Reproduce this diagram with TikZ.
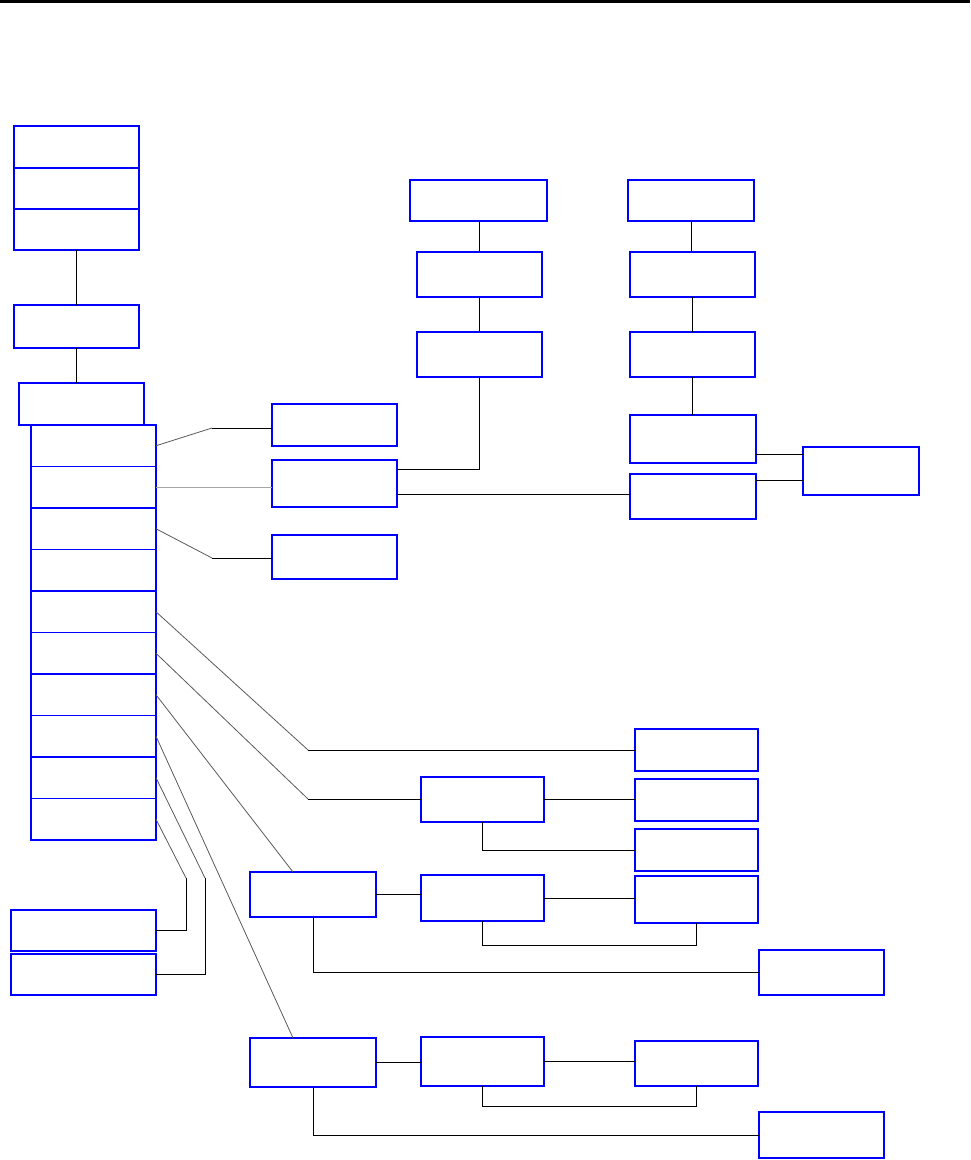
\documentclass[tikz,border=0pt]{standalone}
\usepackage{tikz}

\tikzset{
  blk/.style={draw=blue, line width=1.6pt, inner sep=0pt, outer sep=0pt,
              minimum width=125pt, minimum height=42pt},
  lnk/.style={draw=black, line width=1pt},
  slant/.style={draw=black!65, line width=0.8pt},
}

\begin{document}
\begin{tikzpicture}[x=1pt, y=-1pt]
    \useasboundingbox (0,0) rectangle (970,1160);
    % 顶部黑色横线
    \fill[black] (0,0) rectangle (970,2.5);

    % 左上角三层叠放的方框
    \node[blk, minimum height=42pt] (a1) at (76.5,147) {};
    \node[blk, minimum height=41pt] (a2) at (76.5,188.5) {};
    \node[blk, minimum height=41pt] (a3) at (76.5,229.5) {};
    \node[blk, minimum height=43pt] (b) at (76.5,326.5) {};
    \node[blk] (c) at (81.5,404) {};
    \draw[lnk] (a3.south) -- (b.north);
    \draw[lnk] (b.south) -- (b.south |- c.north);

    % 左侧竖直一列 (十个方框)
    \foreach \i in {1,...,10}
        \node[blk, minimum height=41.5pt] (d\i) at (93.5, 404.25+41.5*\i) {};

    % 第一列右边的三个方框
    \node[blk] (e1) at (334.5,425) {};
    \node[blk, minimum height=47pt] (e2) at (334.5,483.5) {};
    \node[blk, minimum height=44pt] (e3) at (334.5,557) {};
    \coordinate (q1) at (212,428);
    \coordinate (q3) at (212,558);
    \draw[slant] (d1.east) -- (q1);
    \draw[lnk] (q1) -- (q1 -| e1.west);
    \draw[draw=black!35, line width=1.4pt] (d2.east) -- (e2.west |- d2.east);
    \draw[slant] (d3.east) -- (q3);
    \draw[lnk] (q3) -- (q3 -| e3.west);

    % 中间上方的一列
    \node[blk, minimum width=137pt, minimum height=41pt] (f1) at (478.5,200.5) {};
    \node[blk, minimum height=45pt] (f2) at (479.5,274.5) {};
    \node[blk, minimum height=45pt] (f3) at (479.5,354.5) {};
    \draw[lnk] (f1.south -| f2.north) -- (f2.north);
    \draw[lnk] (f2.south) -- (f3.north);
    \draw[lnk] (f3.south) |- (e2.east |- 0,469);

    % 右上方的一列
    \node[blk, minimum width=126pt, minimum height=41pt] (g1) at (691,200.5) {};
    \node[blk, minimum height=45pt] (g2) at (692.5,274.5) {};
    \node[blk, minimum height=45pt] (g3) at (692.5,354.5) {};
    \node[blk, minimum width=126pt, minimum height=48pt] (g4) at (693,439) {};
    \node[blk, minimum width=126pt, minimum height=45pt] (g5) at (693,496.5) {};
    \node[blk, minimum width=116pt, minimum height=48pt] (h) at (861,471) {};
    \draw[lnk] (g1.south) -- (g1.south |- g2.north);
    \draw[lnk] (g2.south) -- (g3.north);
    \draw[lnk] (g3.south) -- (g3.south |- g4.north);
    \draw[lnk] (e2.east |- 0,494) -- (g5.west |- 0,494);
    \draw[lnk] (g4.east |- 0,454) -- (h.west |- 0,454);
    \draw[lnk] (g5.east |- 0,480) -- (h.west |- 0,480);

    % 下方的分支
    \node[blk, minimum width=123pt] (i1) at (696.5,750) {};
    \node[blk, minimum width=123pt] (i2) at (696.5,800) {};
    \node[blk, minimum width=123pt] (i3) at (696.5,850) {};
    \node[blk, minimum width=123pt, minimum height=47pt] (i4) at (696.5,899.5) {};
    \node[blk, minimum width=123pt, minimum height=45pt] (j) at (482.5,799.5) {};
    \node[blk, minimum width=126pt, minimum height=45pt] (k) at (313,894.5) {};
    \node[blk, minimum width=123pt, minimum height=46pt] (l) at (482.5,898) {};
    \node[blk, minimum height=45pt] (m) at (821.5,972.5) {};
    \node[blk, minimum width=126pt, minimum height=49pt] (n) at (313,1062.5) {};
    \node[blk, minimum width=123pt, minimum height=49pt] (o) at (482.5,1061.5) {};
    \node[blk, minimum width=123pt, minimum height=45pt] (p) at (696.5,1063.5) {};
    \node[blk, minimum height=46pt] (q) at (821.5,1135) {};

    \coordinate (q5) at (308,750);
    \coordinate (q6) at (308,799);
    \draw[slant] (d5.east) -- (q5);
    \draw[lnk] (q5) -- (q5 -| i1.west);
    \draw[slant] (d6.east) -- (q6);
    \draw[lnk] (q6) -- (q6 -| j.west);
    \draw[lnk] (j.east) -- (j.east -| i2.west);
    \draw[lnk] (j.south) |- (i3.west);

    \draw[slant] (d7.east) -- (k.north -| 293,0);
    \draw[lnk] (k.east) -- (k.east -| l.west);
    \draw[lnk] (l.east) -- (l.east -| i4.west);
    \draw[lnk] (l.south) -- (l.south |- 0,945) -| (i4.south);
    \draw[lnk] (k.south) |- (m.west);

    \draw[slant] (d8.east) -- (n.north -| 293,0);
    \draw[lnk] (n.east) -- (n.east -| o.west);
    \draw[lnk] (o.east) -- (o.east -| p.west);
    \draw[lnk] (o.south) -- (o.south |- 0,1106) -| (p.south);
    \draw[lnk] (n.south) |- (q.west);

    % 左下角两个方框
    \node[blk, minimum width=145pt, minimum height=41pt] (r) at (83.5,930.5) {};
    \node[blk, minimum width=145pt, minimum height=41pt] (s) at (83.5,974.5) {};
    \coordinate (q9) at (205,878);
    \coordinate (q10) at (186,878);
    \draw[slant] (d9.east) -- (q9);
    \draw[lnk] (q9) |- (s.east);
    \draw[slant] (d10.east) -- (q10);
    \draw[lnk] (q10) |- (r.east);
\end{tikzpicture}
\end{document}
